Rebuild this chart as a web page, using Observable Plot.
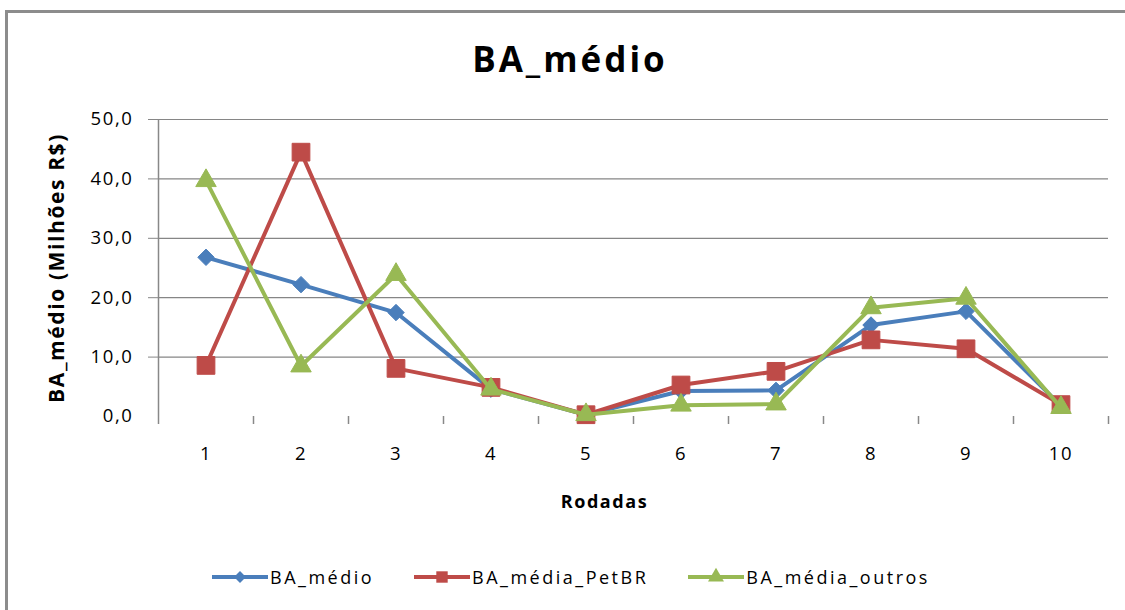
<!DOCTYPE html>
<html>
<head>
<meta charset="utf-8">
<script src="https://cdn.jsdelivr.net/npm/d3@7"></script>
<script src="https://cdn.jsdelivr.net/npm/@observablehq/plot@0.6"></script>
<style>
  body { margin: 0; background: #fff; }
  #wrap { position: relative; width: 1125px; height: 610px; overflow: hidden; font-family: "Open Sans", sans-serif; color: #000; }
  #frame { position: absolute; left: 5px; top: 10px; width: 1300px; height: 800px; border: 3px solid #8c8c8c; box-sizing: border-box; }
  #title { position: absolute; left: 0; top: 41px; width: 1140px; text-align: center; font-weight: bold; font-size: 35px; line-height: 35px; letter-spacing: 3px; }
  #chart { position: absolute; left: 0; top: 0; }
  #legend { position: absolute; left: 212px; top: 567px; height: 20px; display: flex; align-items: center; font-size: 18px; letter-spacing: 2.5px; }
  .item { display: flex; align-items: center; margin-right: 40px; }
  .item svg { margin-right: 2px; }
</style>
</head>
<body>
<div id="wrap">
  <div id="frame"></div>
  <div id="title">BA_médio</div>
  <div id="chart"></div>
  <div id="legend"></div>
</div>
<script>
// ---- data ----
const rounds = [1, 2, 3, 4, 5, 6, 7, 8, 9, 10];
const baMedio = [26.8, 22.2, 17.5, 4.6, 0.3, 4.3, 4.4, 15.4, 17.7, 1.8];
const baPetBR = [8.6, 44.5, 8.1, 4.9, 0.3, 5.3, 7.6, 12.9, 11.4, 2.0];
const baOutros = [39.7, 8.5, 23.9, 4.6, 0.3, 1.9, 2.1, 18.3, 19.9, 1.5];
const seriesNames = ["BA_médio", "BA_média_PetBR", "BA_média_outros"];
const seriesColors = ["#4a7ebb", "#be4b48", "#98b954"];
const seriesSymbols = ["diamond2", "square", "triangle"];
const seriesR = [7.4, 10, 7.6];
const yTicks = [0, 10, 20, 30, 40, 50];
const fmt = d => d.toFixed(1).replace(".", ",");

const allValues = [baMedio, baPetBR, baOutros];
const boundaries = [0.5, ...rounds.map(r => r + 0.5)];

const seriesMarks = [];
allValues.forEach((vals, i) => {
  const rows = rounds.map((r, j) => ({ round: r, value: vals[j] }));
  seriesMarks.push(Plot.line(rows, { x: "round", y: "value", stroke: seriesColors[i], strokeWidth: 4 }));
  seriesMarks.push(Plot.dot(rows, { x: "round", y: "value", symbol: seriesSymbols[i], r: seriesR[i], fill: seriesColors[i], stroke: seriesColors[i], strokeWidth: 1 }));
});

const chart = Plot.plot({
  width: 1125,
  height: 530,
  marginLeft: 158,
  marginRight: 17,
  marginTop: 119,
  marginBottom: 114,
  style: { fontFamily: "'Open Sans', sans-serif", fontSize: "18.5px", color: "#000", background: "transparent", letterSpacing: "1.6px" },
  x: { type: "linear", domain: [0.5, 10.5] },
  y: { domain: [0, 50] },
  marks: [
    Plot.ruleY(yTicks.filter(d => d > 0), { stroke: "#868686", strokeWidth: 1.2 }),
    Plot.axisY(yTicks.filter(d => d > 0), { tickSize: 10, stroke: "#868686", tickFormat: () => "", label: null }),
    Plot.axisY(yTicks, { tickSize: 0, tickPadding: 25, tickFormat: fmt, label: null }),
    Plot.axisX(boundaries, { tickSize: 8, stroke: "#888", strokeWidth: 1.5, tickFormat: () => "", label: null }),
    Plot.axisX(rounds, { tickSize: 0, tickPadding: 30, tickFormat: d => String(d), label: null }),
    Plot.ruleX([0.5], { stroke: "#888", strokeWidth: 1.5 }),
    ...seriesMarks,
    Plot.text(["BA_médio (Milhões R$)"], { frameAnchor: "left", rotate: -90, dx: -101, textAnchor: "middle", fontWeight: "bold", fontSize: 21, letterSpacing: 0.5 }),
    Plot.text(["Rodadas"], { frameAnchor: "bottom", dx: -29, dy: 91, textAnchor: "middle", fontWeight: "bold", fontSize: 18 })
  ]
});
document.getElementById("chart").appendChild(chart);

// ---- legend ----
const legend = d3.select("#legend");
const legendSym = { diamond2: d3.symbolDiamond2, square: d3.symbolSquare, triangle: d3.symbolTriangle };
const legendSize = [90, 130, 110];
seriesNames.forEach((name, i) => {
  const item = legend.append("div").attr("class", "item");
  const svg = item.append("svg").attr("width", 56).attr("height", 20);
  svg.append("line").attr("x1", 0).attr("x2", 56).attr("y1", 10).attr("y2", 10)
    .attr("stroke", seriesColors[i]).attr("stroke-width", 4);
  svg.append("path").attr("transform", "translate(28,10)")
    .attr("d", d3.symbol(legendSym[seriesSymbols[i]], legendSize[i])())
    .attr("fill", seriesColors[i]);
  item.append("span").text(name);
});
</script>
</body>
</html>
